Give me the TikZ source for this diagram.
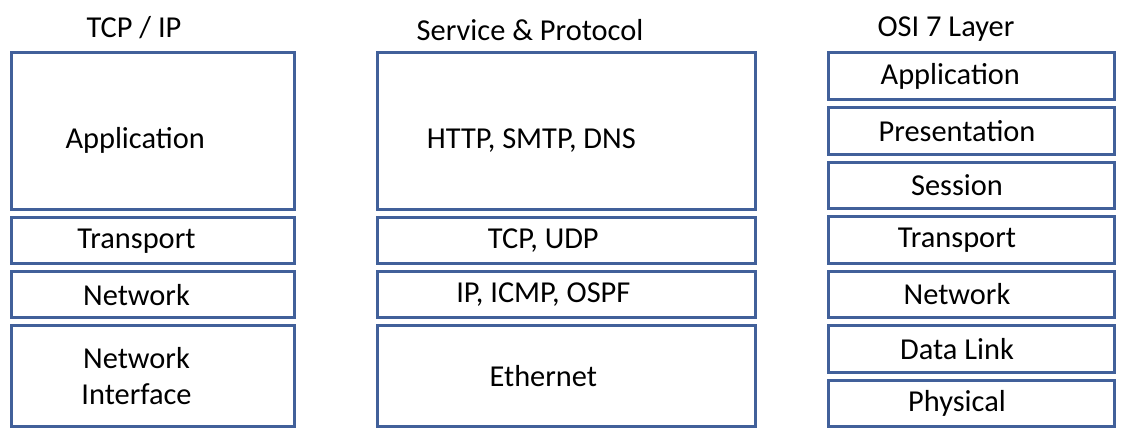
\documentclass[tikz,border=0pt]{standalone}
\usepackage{fontspec}
\setmainfont{Carlito}
\usetikzlibrary{positioning}
\definecolor{layerline}{HTML}{41609A}
\tikzset{
  layer/.style  = {draw=layerline, line width=2.25pt, minimum height=34.5pt, inner sep=0pt},
  tcp/.style    = {layer, minimum width=212.25pt},
  svc/.style    = {layer, minimum width=283.5pt},
  osi/.style    = {layer, minimum width=214.5pt, minimum height=34.9pt},
  txt/.style    = {font=\fontsize{22.8}{27}\selectfont, align=center, inner sep=0pt},
  head/.style   = {font=\fontsize{22.8}{27}\selectfont},
  tcptxt/.style = {label={[txt, xshift=-12pt]center:#1}},
  svctxt/.style = {label={[txt, xshift=-17pt]center:#1}},
  ositxt/.style = {label={[txt, xshift=-10.5pt]center:#1}},
}

\begin{document}
\begin{tikzpicture}[x=0.75pt, y=-0.75pt]
    \useasboundingbox (0,0) rectangle (1122,438);
    % Column titles
    \node[head] (tcptitle) at (134,28) {TCP / IP};
    \node[head] (svctitle) at (530,30) {Service \& Protocol};
    \node[head] (osititle) at (946,29) {OSI 7 Layer};
    % TCP/IP model
    \node[tcp, minimum height=117.75pt, label={[txt, xshift=-13pt, yshift=-6.5pt]center:Application}] (tcpapp) at (152.5,131.5) {};
    \node[tcp, below=3.75pt of tcpapp, tcptxt=Transport] (tcptrans) {};
    \node[tcp, below=3.75pt of tcptrans, tcptxt=Network] (tcpnet) {};
    \node[tcp, below=3.75pt of tcpnet, minimum height=75.75pt, tcptxt={Network\\Interface}] (tcpif) {};
    % Services and protocols
    \node[svc, minimum height=117.75pt, label={[txt, xshift=-26pt, yshift=-6.5pt]center:HTTP, SMTP, DNS}] (svcapp) at (566,131.5) {};
    \node[svc, below=3.75pt of svcapp, svctxt={TCP, UDP}] (svctrans) {};
    \node[svc, below=3.75pt of svctrans, svctxt={IP, ICMP, OSPF}] (svcnet) {};
    \node[svc, below=3.75pt of svcnet, minimum height=75.75pt, svctxt=Ethernet] (svcif) {};
    % OSI reference model
    \node[osi, label={[txt, xshift=-15.5pt]center:Application}] (osiapp) at (971,76.25) {};
    \node[osi, below=3.75pt of osiapp, ositxt=Presentation] (osipres) {};
    \node[osi, below=3.75pt of osipres, ositxt=Session] (osises) {};
    \node[osi, below=3.75pt of osises, ositxt=Transport] (ositrans) {};
    \node[osi, below=3.75pt of ositrans, ositxt=Network] (osinet) {};
    \node[osi, below=3.75pt of osinet, ositxt={Data Link}] (osilink) {};
    \node[osi, below=3.75pt of osilink, ositxt=Physical] (osiphy) {};
\end{tikzpicture}
\end{document}
